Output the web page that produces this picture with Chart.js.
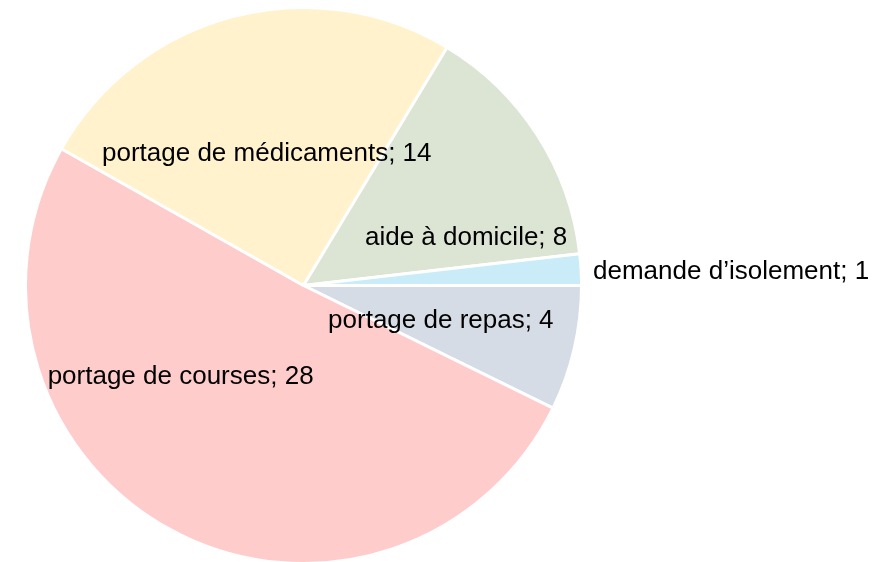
<!DOCTYPE html>
<html>
<head>
<meta charset="utf-8">
<script src="https://cdn.jsdelivr.net/npm/chart.js@4"></script>
<style>
  html, body { margin: 0; padding: 0; background: #fff; overflow: hidden; }
</style>
</head>
<body>
<canvas id="pieChart" width="882" height="566"></canvas>
<script>
// categories in drawing order (clockwise from 3 o'clock)
const categories = ['portage de repas', 'portage de courses', 'portage de médicaments', 'aide à domicile', 'demande d\u2019isolement'];
const counts = [4, 28, 14, 8, 1];
const sliceColors = ['#D6DCE5', '#FFCCCC', '#FFF2CC', '#DCE5D4', '#C9ECF8'];

// where each label sits: fraction along the slice angle, fraction of radius
const labelPlace = [
    { f: 0.55, r: 0.51 },
    { f: 0.64, r: 0.55 },
    { f: 0.49, r: 0.49 },
    { f: 0.81, r: 0.61 },
    { f: 0.5, out: 12 }
];

const sliceLabels = {
    id: 'sliceLabels',
    afterDatasetsDraw(chart) {
        const ctx = chart.ctx;
        const arcs = chart.getDatasetMeta(0).data;
        ctx.save();
        ctx.font = '26px "Liberation Sans", Arial, sans-serif';
        ctx.fillStyle = '#000';
        ctx.textBaseline = 'middle';
        arcs.forEach((arc, i) => {
            const p = labelPlace[i];
            const a = arc.startAngle + p.f * (arc.endAngle - arc.startAngle);
            const txt = categories[i] + '; ' + counts[i];
            if (p.out) {
                const rr = arc.outerRadius + p.out;
                ctx.textAlign = 'left';
                ctx.fillText(txt, arc.x + rr * Math.cos(a), arc.y + rr * Math.sin(a) + 3);
            } else {
                const rr = arc.outerRadius * p.r;
                ctx.textAlign = 'center';
                ctx.fillText(txt, arc.x + rr * Math.cos(a), arc.y + rr * Math.sin(a));
            }
        });
        ctx.restore();
    }
};

const ctx = document.getElementById('pieChart').getContext('2d');
new Chart(ctx, {
    type: 'pie',
    data: {
        labels: categories,
        datasets: [{
            data: counts,
            backgroundColor: sliceColors,
            borderColor: '#fff',
            borderWidth: 3
        }]
    },
    options: {
        responsive: false,
        animation: false,
        rotation: 90,
        layout: { padding: { left: 24, top: 6, right: 299, bottom: 1 } },
        plugins: {
            legend: { display: false },
            tooltip: { enabled: false }
        }
    },
    plugins: [sliceLabels]
});
</script>
</body>
</html>
